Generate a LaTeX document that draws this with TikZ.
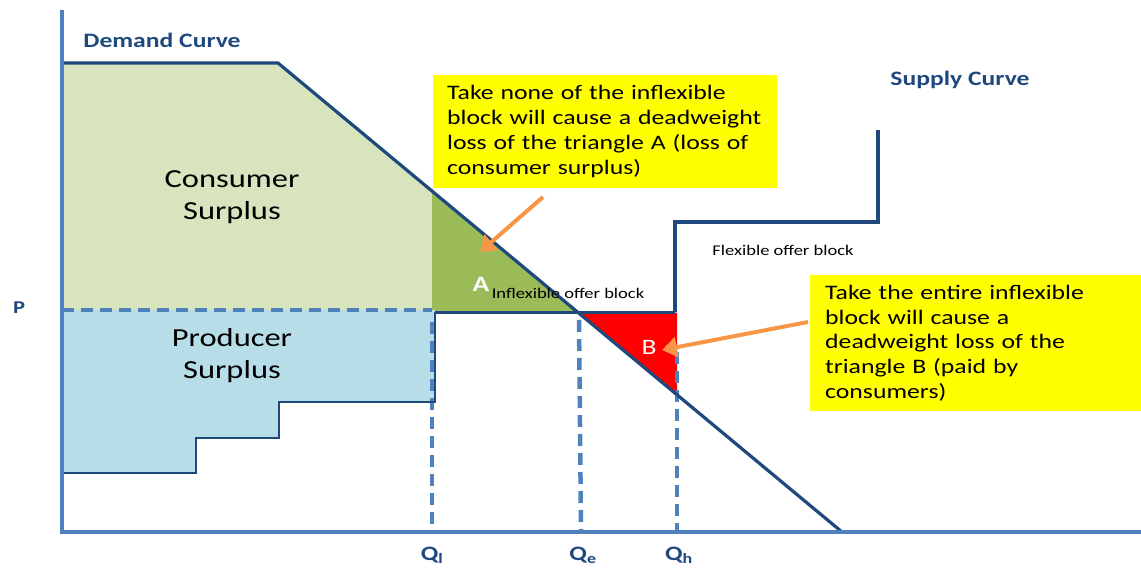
\documentclass[tikz,border=0pt]{standalone}
\usepackage{fontspec}
\setmainfont{Carlito}[FakeStretch=1.25]
\usetikzlibrary{arrows.meta}
\definecolor{AxisCol}{HTML}{4F81BD}
\definecolor{LineCol}{HTML}{1F497D}
\definecolor{ConsCol}{HTML}{D7E4BD}
\definecolor{LossCol}{HTML}{9BBB59}
\definecolor{ProdCol}{HTML}{B7DDE8}
\definecolor{NoteCol}{HTML}{FFFF00}
\definecolor{ArrowCol}{HTML}{F79646}
\tikzstyle{axis} = [draw=AxisCol, line width=3.2pt]
\tikzstyle{level} = [draw=AxisCol, line width=4.5pt, dash pattern=on 12pt off 7pt]
\tikzstyle{curve} = [draw=LineCol, line width=3.2pt]
\tikzstyle{title} = [font=\fontsize{20.5}{24}\selectfont\bfseries, text=LineCol]
\tikzstyle{area} = [font=\fontsize{26}{32}\selectfont, align=center]
\tikzstyle{small} = [font=\fontsize{14.8}{18}\selectfont]
\tikzstyle{note} = [fill=NoteCol, anchor=north west, align=left, inner ysep=4pt, font=\fontsize{20.6}{24.8}\selectfont]
\tikzstyle{pointer} = [draw=ArrowCol, line width=4pt, -{Triangle[length=15pt,width=20pt]}]

\begin{document}
\begin{tikzpicture}[x=1pt, y=-1pt]
                \useasboundingbox (0,0) rectangle (1141,570);
                \fill[ConsCol] (62,63) -- (278,63) -- (432,191) -- (432,310) -- (62,310) -- cycle;
                \fill[LossCol] (432,191) -- (578,312.5) -- (432,312.5) -- cycle;
                \fill[red] (578,312.5) -- (677,312.5) -- (677,394.8) -- cycle;
                \fill[ProdCol] (62,310) -- (435,310) -- (435,402) -- (279,402) -- (279,438) -- (196,438) -- (196,473) -- (62,473) -- cycle;
                \draw[level] (62,310) -- (432,310);
                \draw[level] (432,322) -- (432,530);
                \draw[level] (579,320) -- (581,530);
                \draw[level] (677,352) -- (677,530);
                \draw[draw=LineCol, line width=1.8pt] (64,473) -- (196,473) -- (196,438) -- (279,438) -- (279,402) -- (435,402) -- (435,312);
                \draw[draw=LineCol, line width=3pt] (435,312) -- (675,312);
                \draw[draw=LineCol, line width=4.5pt] (675,312) -- (675,222) -- (878,222) -- (878,130);
                \draw[curve] (62,63) -- (278,63) -- (842,532);
                \draw[axis] (62,10) -- (62,532) -- (1141,532);

                \node[title] (demand) at (162,40) {Demand Curve};
                \node[title] (supply) at (960,80) {Supply Curve};
                \node[title, font=\fontsize{18}{20}\selectfont\bfseries] (price) at (19,308) {P};
                \node[title] (ql) at (432,555) {Q\textsubscript{l}};
                \node[title] (qe) at (583,555) {Q\textsubscript{e}};
                \node[title] (qh) at (679,555) {Q\textsubscript{h}};
                \node[area] (cons) at (232,197) {Consumer\\Surplus};
                \node[area] (prod) at (232,356) {Producer\\Surplus};
                \node[font=\fontsize{22}{24}\selectfont\bfseries, text=white] (triA) at (481,284) {A};
                \node[font=\fontsize{22}{24}\selectfont, text=white] (triB) at (649,347) {B};
                \node[small] (inflex) at (568,293) {Inflexible offer block};
                \node[small] (flex) at (783,250) {Flexible offer block};
                \node[note, text width=316pt, inner xsep=14pt, minimum height=113pt] (noteA) at (433,75) {Take none of the inflexible\\block will cause a deadweight\\loss of the triangle A (loss of\\consumer surplus)};
                \node[note, text width=301pt, inner xsep=15pt, minimum height=136pt] (noteB) at (810,275) {Take the entire inflexible\\block will cause a\\deadweight loss of the\\triangle B (paid by\\consumers)};
                \coordinate (tailA) at (543,197);
                \coordinate (tipA) at (480,252);
                \coordinate (tailB) at (808,322);
                \coordinate (tipB) at (662,350);
                \draw[pointer] (tailA) -- (tipA);
                \draw[pointer] (tailB) -- (tipB);
             \end{tikzpicture}
\end{document}
